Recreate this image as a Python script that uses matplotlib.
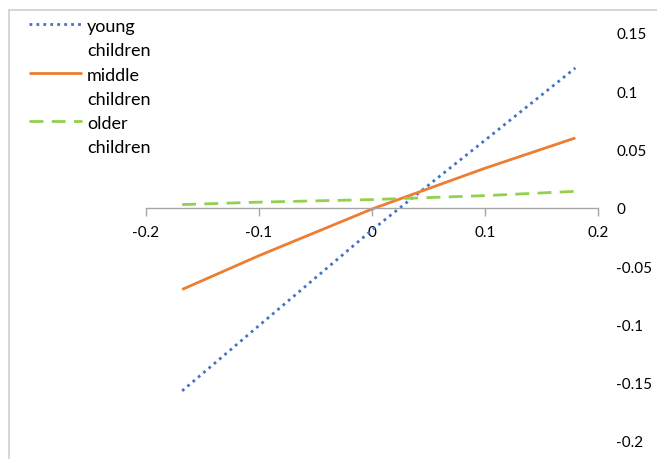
import matplotlib
matplotlib.use("Agg")
import matplotlib.pyplot as plt
from matplotlib.patches import Rectangle
from matplotlib.lines import Line2D

plt.rcParams["font.family"] = ["Lato", "DejaVu Sans"]
plt.rcParams["axes.unicode_minus"] = False

# data
x_vals = [-0.168, -0.1, 0, 0.1, 0.18]
young = [-0.157, -0.101, -0.019, 0.058, 0.120]
middle = [-0.070, -0.041, -0.001, 0.034, 0.060]
older = [0.0028, 0.0049, 0.0071, 0.0105, 0.0142]
labels = ["young\nchildren", "middle\nchildren", "older\nchildren"]
x_ticks = [-0.2, -0.1, 0, 0.1, 0.2]
y_ticks = [0.15, 0.1, 0.05, 0, -0.05, -0.1, -0.15, -0.2]

BLUE = "#4472C4"
ORANGE = "#ED7D31"
GREEN = "#92D050"
GRAY = "#A6A6A6"

W, H = 657, 460
fig = plt.figure(figsize=(W / 100, H / 100), dpi=100)
ax = fig.add_axes([146 / W, (H - 442) / H, (598 - 146) / W, (442 - 34) / H])

styles = [
    (young, BLUE, (0, (1, 1.5))),
    (middle, ORANGE, "-"),
    (older, GREEN, (0, (5, 3))),
]
for ys, c, ls in styles:
    ax.plot(x_vals, ys, color=c, lw=2, linestyle=ls, solid_capstyle="butt")

ax.set_xlim(-0.2, 0.2)
ax.set_ylim(-0.2, 0.15)
ax.set_xticks(x_ticks)
ax.set_xticklabels(["%g" % v for v in x_ticks])
ax.set_yticks(y_ticks)
ax.set_yticklabels(["%g" % v for v in y_ticks])

for s in ["left", "right", "top"]:
    ax.spines[s].set_visible(False)
ax.spines["bottom"].set_position(("data", 0))
ax.spines["bottom"].set_color(GRAY)
ax.spines["bottom"].set_linewidth(1)

ax.tick_params(axis="x", direction="out", length=6, color=GRAY, width=1,
               labelsize=11, pad=6, labelcolor="black")
ax.yaxis.tick_right()
ax.tick_params(axis="y", length=0, labelsize=11, pad=13, labelcolor="black")
for t in ax.get_yticklabels():
    t.set_horizontalalignment("left")

# chart area border (extends past right and bottom edges)
fig.add_artist(Rectangle((8.5 / W, -0.1), 1.2, 1 - 10.5 / H + 0.1,
                         transform=fig.transFigure, fill=False,
                         ec="#D0D0D0", lw=1.2))

# legend, handle aligned with first line of each entry
for i, (lab, (ys, c, ls)) in enumerate(zip(labels, styles)):
    yp = 25 + 48.7 * i
    fig.add_artist(Line2D([29 / W, 82 / W], [1 - yp / H, 1 - yp / H],
                          transform=fig.transFigure, color=c, lw=2,
                          linestyle=ls, solid_capstyle="butt"))
    for j, part in enumerate(lab.split("\n")):
        fig.text(87 / W, 1 - (yp + 7 + 24 * j) / H, part, ha="left",
                 va="baseline", fontsize=13)

fig.savefig("out.png", dpi=100)
